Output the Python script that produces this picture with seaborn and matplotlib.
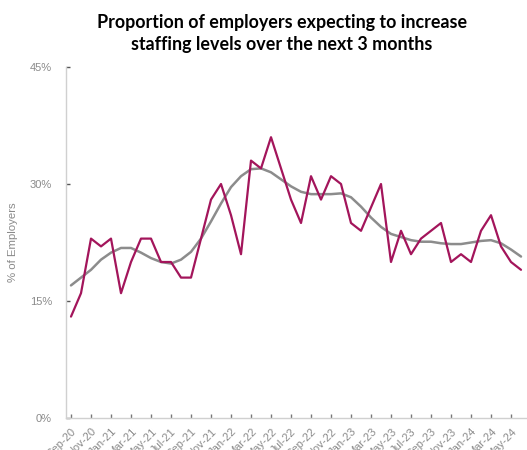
import numpy as np
import pandas as pd
import matplotlib
matplotlib.use("Agg")
import matplotlib.pyplot as plt
import matplotlib.transforms as mtransforms
import seaborn as sns

months = pd.date_range("2020-09-01", periods=46, freq="MS").strftime("%b-%y").tolist()
expecting = [13, 16, 23, 22, 23, 16, 20, 23, 23, 20, 20, 18, 18, 23, 28, 30, 26, 21,
             33, 32, 36, 32, 28, 25, 31, 28, 31, 30, 25, 24, 27, 30, 20, 24, 21, 23,
             24, 25, 20, 21, 20, 24, 26, 22, 20, 19]
trend = [17.0, 18.0, 19.0, 20.3, 21.2, 21.8, 21.8, 21.2, 20.5, 20.0, 19.8, 20.3, 21.3,
         23.0, 25.2, 27.5, 29.6, 31.0, 31.9, 32.0, 31.5, 30.6, 29.7, 29.0, 28.7, 28.7,
         28.7, 28.8, 28.3, 27.1, 25.7, 24.5, 23.6, 23.2, 22.8, 22.6, 22.6, 22.4, 22.3,
         22.3, 22.5, 22.7, 22.8, 22.4, 21.6, 20.7]
y_ticks = [0, 15, 30, 45]
y_tick_labels = ["0%", "15%", "30%", "45%"]

df = pd.DataFrame({"idx": np.arange(len(months)), "month": months,
                   "expecting": expecting, "trend": trend})

sns.set_theme(style="white")
plt.rcParams["font.family"] = ["Liberation Sans", "DejaVu Sans"]

fig = plt.figure(figsize=(5.27, 4.5), dpi=100)
ax = fig.add_axes([66/527, 1-418/450, 460/527, (418-67)/450])

sns.lineplot(data=df, x="idx", y="trend", ax=ax, color="#8c8c8c", linewidth=1.8)
sns.lineplot(data=df, x="idx", y="expecting", ax=ax, color="#a3155b", linewidth=1.6)

ax.set_xlim(-0.5, len(months) - 0.5)
ax.set_ylim(0, 45)
ax.set_yticks(y_ticks)
ax.set_yticklabels(y_tick_labels)
tick_pos = np.arange(0, len(months), 2)
ax.set_xticks(tick_pos)
ax.set_xticklabels([months[i] for i in tick_pos], rotation=45, ha="right",
                   rotation_mode="anchor")
offset = mtransforms.ScaledTranslation(9/100, 0, fig.dpi_scale_trans)
for lab in ax.get_xticklabels():
    lab.set_transform(lab.get_transform() + offset)

ax.tick_params(axis="y", which="major", left=True, direction="in", length=3, width=1,
               color="#555555", labelsize=8, labelcolor="#8a8a8a", pad=10)
ax.tick_params(axis="x", which="major", bottom=True, direction="in", length=3,
               width=1, color="#777777", labelsize=8, labelcolor="#8a8a8a", pad=6)

for s in ["top", "right"]:
    ax.spines[s].set_visible(False)
for s in ["left", "bottom"]:
    ax.spines[s].set_color("#d0d0d0")
    ax.spines[s].set_linewidth(1)

ax.set_xlabel("")
ax.set_ylabel("% of Employers", fontsize=8.2, color="#8a8a8a")
ax.yaxis.set_label_coords(-0.104, 0.5)

fig.text(0.535, 0.968, "Proportion of employers expecting to increase\nstaffing levels over the next 3 months",
         ha="center", va="top", fontsize=12.9, fontweight="bold", color="#000000",
         linespacing=1.3, family=["Lato", "DejaVu Sans"])

fig.savefig("out.png", dpi=100)
